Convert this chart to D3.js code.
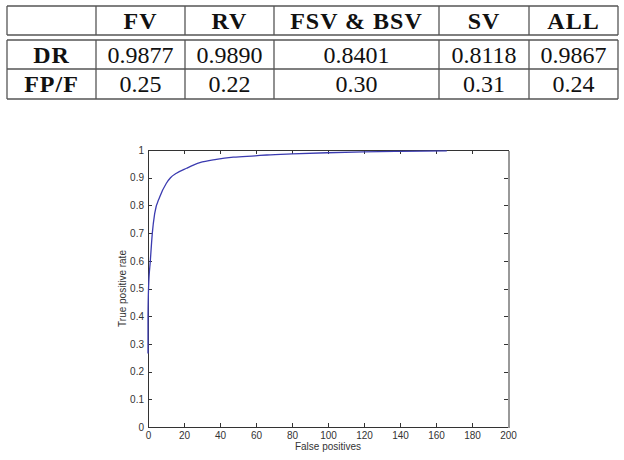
<!DOCTYPE html>
<meta charset="utf-8">
<head>
<style>
  body { margin: 0; background: #fff; }
  .tbl text { font-family: "Liberation Serif", serif; fill: #111; }
  .tbl .hd { font-weight: bold; letter-spacing: 1px; }
  .grid line { stroke: #555; stroke-width: 1.3; }
  .axis text { font: 10px "Liberation Sans", Arial, sans-serif; fill: #333; }
  .axis path, .axis line { stroke: #333; shape-rendering: crispEdges; }
  .curve { fill: none; stroke: #3b3bb0; stroke-width: 1.3; }
</style>
</head>
<body>
<script src="https://d3js.org/d3.v7.min.js"></script>
<script>
// table values
var headers = ["", "FV", "RV", "FSV & BSV", "SV", "ALL"];
var rowLabels = ["DR", "FP/F"];
var drValues = ["0.9877", "0.9890", "0.8401", "0.8118", "0.9867"];
var fpValues = ["0.25", "0.22", "0.30", "0.31", "0.24"];

// curve: false positives vs true positive rate
var fpCounts = [0, 0, 0.3, 1.3, 2.4, 3.7, 6.5, 10.2, 12.5, 15.8, 21.4, 28.8, 38, 47.4, 59.5, 66, 80, 99.5, 119.7, 140, 166];
var tpRates  = [0.265, 0.40, 0.50, 0.60, 0.70, 0.77, 0.83, 0.88, 0.90, 0.916, 0.934, 0.954, 0.966, 0.974, 0.979, 0.982, 0.986, 0.990, 0.993, 0.995, 0.997];
var xTicks = [0, 20, 40, 60, 80, 100, 120, 140, 160, 180, 200];
var yTicks = [0, 0.1, 0.2, 0.3, 0.4, 0.5, 0.6, 0.7, 0.8, 0.9, 1];

var svg = d3.select("body").append("svg")
    .attr("width", 624)
    .attr("height", 460);

// ---- table ----
var colEdges = [7, 96, 185, 274, 439, 529, 618];
var rowEdges = [6, 35, 40, 69, 99];
var fs = 24;

var tbl = svg.append("g").attr("class", "tbl");
var grid = tbl.append("g").attr("class", "grid");

// horizontal rules
rowEdges.forEach(function (yy) {
    grid.append("line").attr("x1", colEdges[0]).attr("x2", colEdges[6]).attr("y1", yy).attr("y2", yy);
});
// vertical rules, broken at the double line
colEdges.forEach(function (xx) {
    grid.append("line").attr("x1", xx).attr("x2", xx).attr("y1", rowEdges[0]).attr("y2", rowEdges[1]);
    grid.append("line").attr("x1", xx).attr("x2", xx).attr("y1", rowEdges[2]).attr("y2", rowEdges[4]);
});

function colMid(i) { return (colEdges[i] + colEdges[i + 1]) / 2; }

tbl.selectAll(".hd").data(headers).enter().append("text")
    .attr("class", "hd")
    .attr("x", function (d, i) { return colMid(i); })
    .attr("y", (rowEdges[0] + rowEdges[1]) / 2 + 8)
    .attr("text-anchor", "middle")
    .attr("font-size", fs)
    .text(function (d) { return d; });

var rows = [drValues, fpValues];
rows.forEach(function (vals, r) {
    var cy = (rowEdges[r + 2] + rowEdges[r + 3]) / 2 + 8;
    tbl.append("text").attr("class", "hd")
        .attr("x", colMid(0)).attr("y", cy)
        .attr("text-anchor", "middle").attr("font-size", fs)
        .text(rowLabels[r]);
    tbl.selectAll(".v" + r).data(vals).enter().append("text")
        .attr("x", function (d, i) { return colMid(i + 1); })
        .attr("y", cy)
        .attr("text-anchor", "middle")
        .attr("font-size", fs)
        .text(function (d) { return d; });
});

// ---- ROC chart ----
var pLeft = 148, pRight = 508, pTop = 150, pBottom = 427;

var x = d3.scaleLinear().domain([0, 200]).range([pLeft, pRight]);
var y = d3.scaleLinear().domain([0, 1]).range([pBottom, pTop]);

var chart = svg.append("g");

chart.append("g").attr("class", "axis")
    .attr("transform", "translate(0," + pBottom + ")")
    .call(d3.axisBottom(x).tickValues(xTicks).tickSizeInner(-4).tickSizeOuter(0).tickPadding(5));

chart.append("g").attr("class", "axis")
    .attr("transform", "translate(" + pLeft + ",0)")
    .call(d3.axisLeft(y).tickValues(yTicks).tickFormat(d3.format("")).tickSizeInner(-4).tickSizeOuter(0).tickPadding(4));

chart.append("g").attr("class", "axis")
    .attr("transform", "translate(0," + pTop + ")")
    .call(d3.axisTop(x).tickValues(xTicks).tickSizeInner(-4).tickSizeOuter(0).tickFormat(""));

var rightAxis = chart.append("g").attr("class", "axis")
    .attr("transform", "translate(" + pRight + ",0)")
    .call(d3.axisRight(y).tickValues(yTicks).tickSizeInner(-4).tickSizeOuter(0).tickFormat(""));
rightAxis.select(".domain").style("stroke", "#999").style("stroke-width", 2);

var pts = fpCounts.map(function (d, i) { return [d, tpRates[i]]; });
chart.append("path")
    .datum(pts)
    .attr("class", "curve")
    .attr("d", d3.line()
        .x(function (d) { return x(d[0]); })
        .y(function (d) { return y(d[1]); })
        .curve(d3.curveMonotoneX));

chart.append("text")
    .attr("x", (pLeft + pRight) / 2)
    .attr("y", 450)
    .attr("text-anchor", "middle")
    .style("font", "10px 'Liberation Sans', Arial, sans-serif")
    .style("fill", "#333")
    .text("False positives");

chart.append("text")
    .attr("transform", "translate(126," + (pTop + pBottom) / 2 + ") rotate(-90)")
    .attr("text-anchor", "middle")
    .style("font", "10px 'Liberation Sans', Arial, sans-serif")
    .style("fill", "#333")
    .text("True positive rate");
</script>
</body>
